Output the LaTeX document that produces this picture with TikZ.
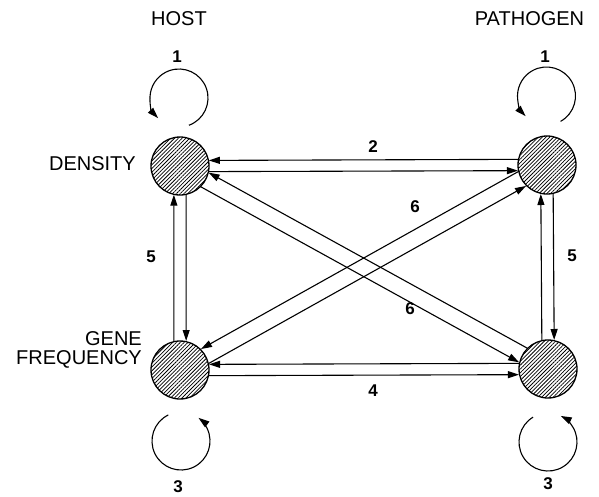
\documentclass[tikz,border=0pt]{standalone}
\usepackage{fontspec}
\setmainfont{Liberation Sans}
\usetikzlibrary{arrows.meta,patterns.meta}
\tikzset{
  compart/.style={circle, draw, line width=1.3pt, minimum size=58pt, inner sep=0pt,
    pattern={Lines[angle=45,distance=2.7pt,line width=0.75pt]}},
  arr/.style={line width=1.1pt, -{Triangle[length=11pt,width=7pt]}},
  lbl/.style={font=\fontsize{20}{19}\selectfont, inner sep=0pt},
  num/.style={font=\bfseries\fontsize{17}{17}\selectfont, inner sep=0pt, anchor=base}
}
\begin{document}
\begin{tikzpicture}[x=1pt,y=-1pt]
\useasboundingbox (0,0) rectangle (599,496);
% compartments
\node[compart] (tl) at (180,166) {};
\node[compart] (tr) at (547,165) {};
\node[compart] (bl) at (180,370) {};
\node[compart] (br) at (548,369) {};
% text labels
\node[lbl, anchor=base] (host) at (179,25) {HOST};
\node[lbl, anchor=base] (path) at (529.5,25) {PATHOGEN};
\node[lbl, anchor=base east] (dens) at (136,170) {DENSITY};
\node[lbl, anchor=base east, align=right] (gene) at (142,364) {GENE\\FREQUENCY};
% horizontal pairs
\draw[arr] (tr.169) -- (tl.11);
\draw[arr] (tl.-11) -- (tr.191);
\draw[arr] (br.169) -- (bl.11);
\draw[arr] (bl.-11) -- (br.191);
% vertical pairs
\draw[arr] (bl.102) -- (tl.-102);
\draw[arr] (tl.-78) -- (bl.78);
\draw[arr] (br.102) -- (tr.-102);
\draw[arr] (tr.-78) -- (br.78);
% diagonals
\draw[arr] (br.135) -- (tl.-13);
\draw[arr] (tl.-45) -- (br.167);
\draw[arr] (tr.193) -- (bl.45);
\draw[arr] (bl.13) -- (tr.225);
% self loops (angles measured clockwise on the page, since y points down)
\coordinate (c1) at (179,98);
\coordinate (c2) at (546.5,96);
\coordinate (c3) at (181,441);
\coordinate (c4) at (548,442);
\draw[arr] (c1) ++(70:29) arc[start angle=70, end angle=-224, radius=29];
\draw[arr] (c2) ++(61:29) arc[start angle=61, end angle=-224, radius=29];
\draw[arr] (c3) ++(-116:29) arc[start angle=-116, end angle=-413, radius=29];
\draw[arr] (c4) ++(-121:29) arc[start angle=-121, end angle=-424, radius=29];
% numbers
\node[num] (n1a) at (177,62) {1};
\node[num] (n1b) at (545,62) {1};
\node[num] (n2) at (373,152) {2};
\node[num] (n6a) at (415,212) {6};
\node[num] (n6b) at (410,314) {6};
\node[num] (n5a) at (151,262) {5};
\node[num] (n5b) at (572,261) {5};
\node[num] (n4) at (373,396) {4};
\node[num] (n3a) at (178,492) {3};
\node[num] (n3b) at (548,489) {3};
\end{tikzpicture}
\end{document}
